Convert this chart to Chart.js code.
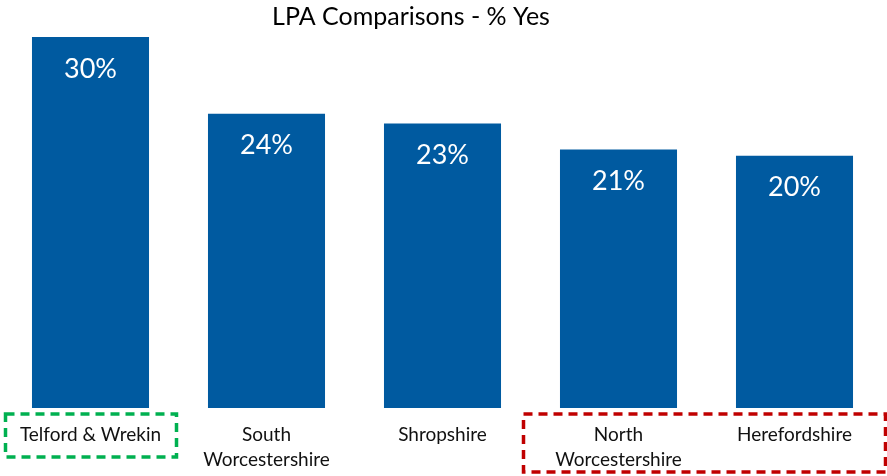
<!DOCTYPE html>
<html>
<head>
<meta charset="utf-8">
<script src="https://cdn.jsdelivr.net/npm/chart.js@4"></script>
<style>
  html, body { margin: 0; padding: 0; background: #fff; }
  #wrap { width: 887px; height: 476px; }
</style>
</head>
<body>
<div id="wrap"><canvas id="chartCanvas" width="887" height="476"></canvas></div>
<script>
// values
const categories = [
  ["Telford & Wrekin"],
  ["South", "Worcestershire"],
  ["Shropshire"],
  ["North", "Worcestershire"],
  ["Herefordshire"],
];
const yesPercent = [30, 23.8, 23, 20.9, 20.4];
const chartTitle = "LPA Comparisons - % Yes";

const FONT = "Lato, 'Open Sans', sans-serif";

// title, value labels and the dashed highlight boxes
const extras = {
  id: "extras",
  afterDatasetsDraw(chart) {
    const ctx = chart.ctx;
    const meta = chart.getDatasetMeta(0);
    const x = chart.scales.x;

    ctx.save();
    ctx.fillStyle = "#fff";
    ctx.font = "27px " + FONT;
    ctx.textAlign = "center";
    ctx.textBaseline = "middle";
    meta.data.forEach((bar, i) => {
      ctx.fillText(Math.round(yesPercent[i]) + "%", bar.x, bar.y + 32);
    });

    ctx.fillStyle = "#000";
    ctx.font = "25px " + FONT;
    ctx.fillText(chartTitle, 411, 17);

    ctx.lineWidth = 3.5;
    ctx.setLineDash([9, 6]);

    // green box round the best one
    const c0 = x.getPixelForValue(0);
    ctx.strokeStyle = "#00B050";
    ctx.strokeRect(c0 - 85, 414, 171, 43);

    // red box round the lowest two
    const c3 = x.getPixelForValue(3);
    const c4 = x.getPixelForValue(4);
    ctx.strokeStyle = "#C00000";
    ctx.strokeRect(c3 - 95, 414, c4 - c3 + 186, 58);
    ctx.restore();
  },
};

new Chart(document.getElementById("chartCanvas"), {
  type: "bar",
  data: {
    labels: categories,
    datasets: [
      {
        data: yesPercent,
        backgroundColor: "#005AA0",
        categoryPercentage: 0.665,
        barPercentage: 1,
      },
    ],
  },
  options: {
    responsive: false,
    animation: false,
    layout: { padding: { left: 2.5, right: 4.5, top: 37, bottom: 0 } },
    plugins: {
      legend: { display: false },
      tooltip: { enabled: false },
      title: { display: false },
    },
    scales: {
      y: { display: false, min: 0, max: 30 },
      x: {
        grid: { display: false, drawTicks: false },
        border: { display: false },
        ticks: {
          color: "#111",
          padding: 15,
          maxRotation: 0,
          autoSkip: false,
          font: { family: FONT, size: 19, lineHeight: 1.3 },
        },
        afterFit(scale) {
          scale.height = 68;
        },
      },
    },
  },
  plugins: [extras],
});
</script>
</body>
</html>
